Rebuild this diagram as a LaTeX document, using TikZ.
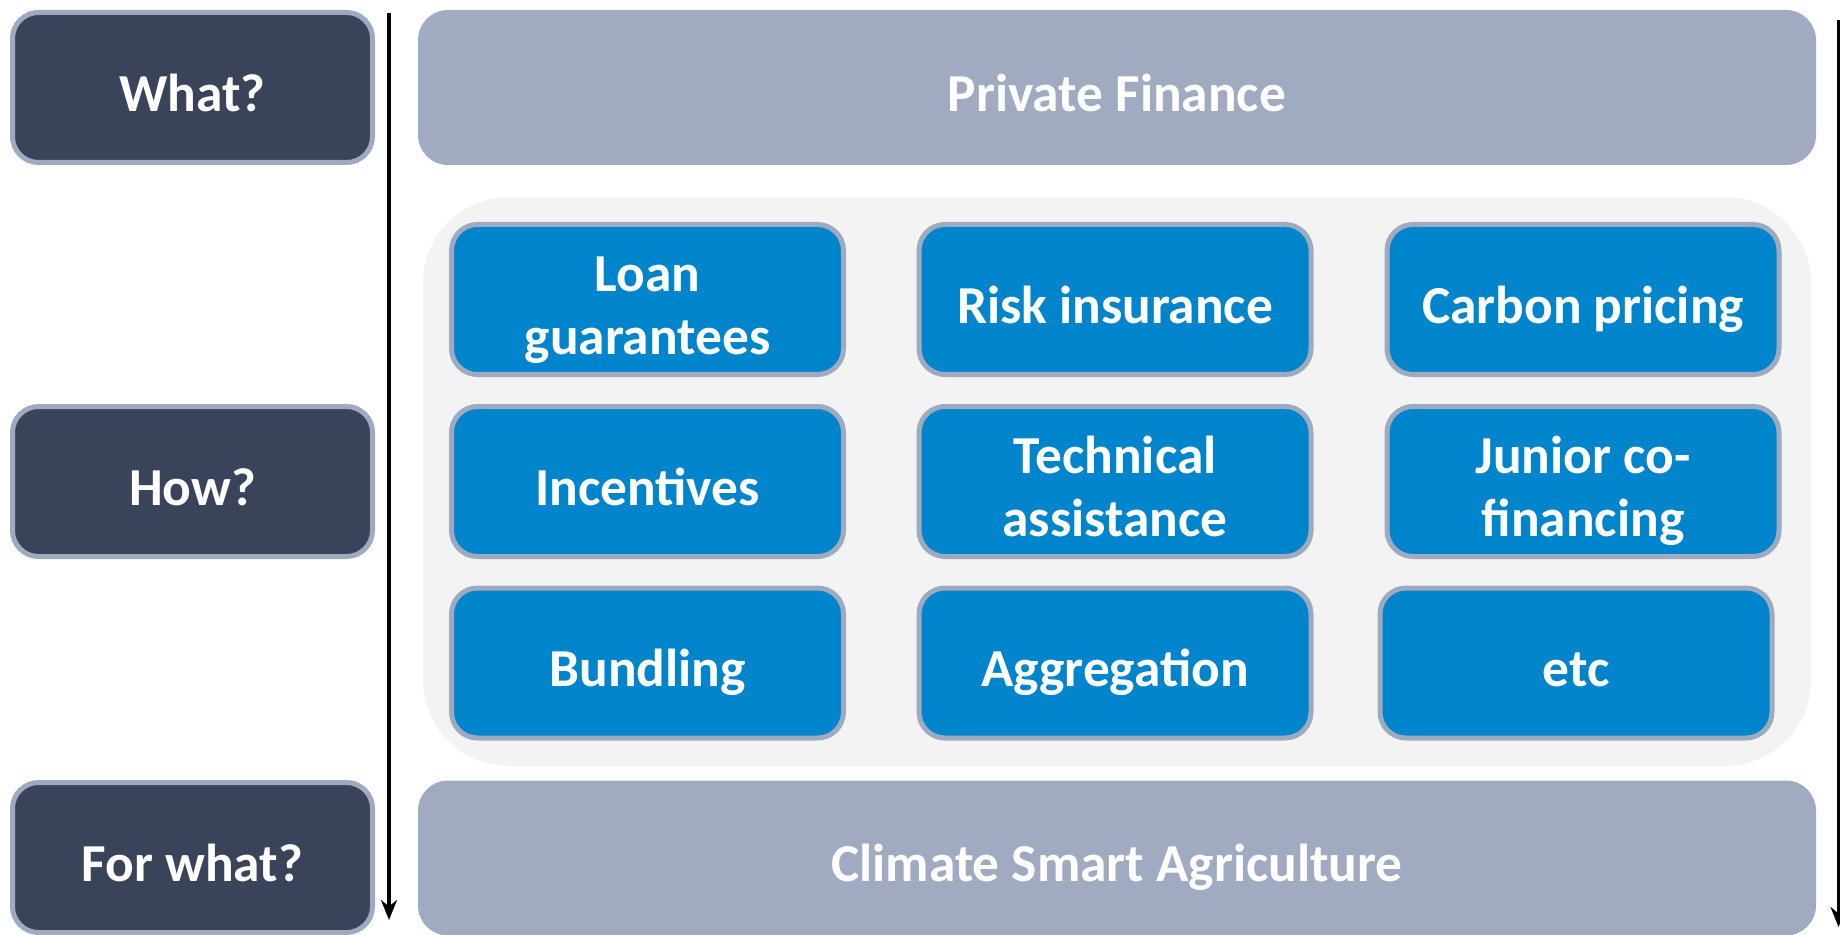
\documentclass[tikz,border=0pt]{standalone}
\usepackage{fontspec}
\setmainfont{Carlito}
\usetikzlibrary{arrows.meta}

\definecolor{darkbox}{HTML}{394359}
\definecolor{boxline}{HTML}{9EAAC0}
\definecolor{lightbox}{HTML}{A0ABC1}
\definecolor{bluebox}{HTML}{0085CD}
\definecolor{panelgray}{HTML}{F3F3F3}

\tikzset{
  boxtext/.style={text=white, font=\bfseries\fontsize{26.7}{31.5}\selectfont,
    text height=28.4pt, text depth=4.7pt},
  question/.style={boxtext, draw=boxline, line width=2.5pt, fill=darkbox, rounded corners=13pt,
    minimum width=180pt, minimum height=75pt},
  band/.style={boxtext, fill=lightbox, rounded corners=15pt, minimum width=699pt,
    minimum height=77.5pt},
  panel/.style={fill=panelgray, rounded corners=43pt, minimum width=694pt, minimum height=284.5pt},
  tool/.style={boxtext, draw=boxline, line width=2.5pt, fill=bluebox, rounded corners=13pt,
    minimum width=196pt, minimum height=75pt, align=center},
  twoline/.style={text height=59.9pt},
  flow/.style={line width=2pt, -{Stealth[length=10pt,width=8pt]}}
}

\begin{document}
\begin{tikzpicture}
  \begin{scope}[x=0.5pt, y=-0.5pt]
    \useasboundingbox (0,0) rectangle (1840,935);
    \node[question] (what) at (192.5,87.5) {What?};
    \node[question] (how) at (192.5,481.5) {How?};
    \node[question] (forwhat) at (192.5,857.5) {For what?};
    \node[band] (finance) at (1117,87.5) {Private Finance};
    \node[band] (csa) at (1117,858) {Climate Smart Agriculture};
    \node[panel] (tools) at (1117,481.5) {};
    \node[tool, twoline] (loan) at (647.5,299.5) {Loan\\guarantees};
    \node[tool] (risk) at (1115,299.5) {Risk insurance};
    \node[tool] (carbon) at (1583,299.5) {Carbon pricing};
    \node[tool] (incent) at (647.5,481.5) {Incentives};
    \node[tool, twoline] (techass) at (1115,481.5) {Technical\\assistance};
    \node[tool, twoline] (junior) at (1583,481.5) {Junior co-\\financing};
    \node[tool] (bundle) at (647.5,663) {Bundling};
    \node[tool] (aggreg) at (1115,663) {Aggregation};
    \node[tool] (etc) at (1576,663) {etc};
    %\draw[very thin, gray, step=100] (0,0) grid (1840,935);
    \coordinate (lefttop) at (389,13);
    \coordinate (leftend) at (389,920);
    \coordinate (righttop) at (1838.5,20);
    \coordinate (rightend) at (1838.5,927);
    \draw[flow] (lefttop) -- (leftend);
    \draw[flow] (righttop) -- (rightend);
  \end{scope}
\end{tikzpicture}
\end{document}
